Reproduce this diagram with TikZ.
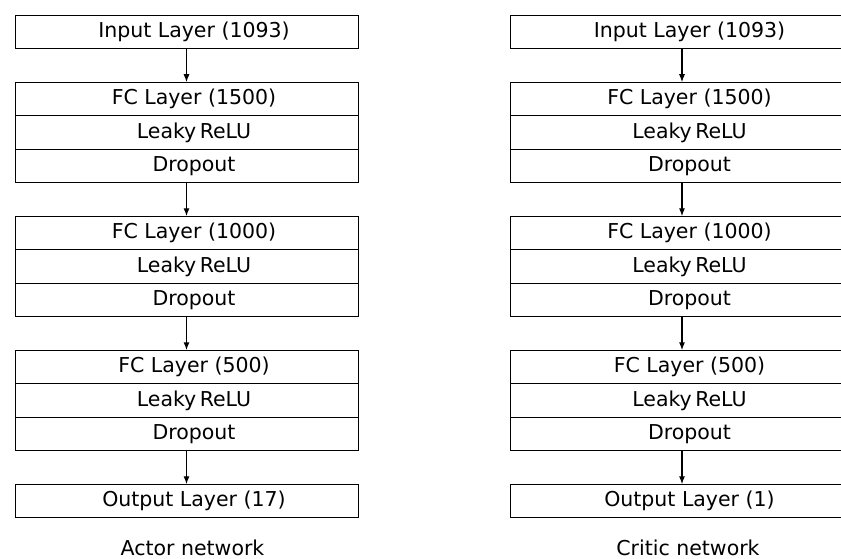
\documentclass[tikz,border=0pt]{standalone}
\usepackage{fontspec}
\setmainfont{DejaVu Sans}
\usetikzlibrary{arrows.meta, positioning}

\begin{document}
\begin{tikzpicture}[
    x=1pt, y=1pt,
    layerbox/.style={rectangle, draw=black, line width=1pt, outer sep=0pt,
                     minimum width=343pt, minimum height=33.5pt, inner sep=0pt,
                     execute at begin node={\hspace*{15pt}},
                     font=\fontsize{20.5}{24}\selectfont},
    netlabel/.style={inner sep=0pt, xshift=6pt, font=\fontsize{20.5}{24}\selectfont},
    flow/.style={-{Latex[length=8pt,width=6pt]}, line width=1.1pt},
  ]
    \clip (0,0) rectangle (841,-559);

    % actor network
    \node[layerbox] (ain) at (186.5,-32) {Input Layer (1093)};
    \node[layerbox, below=33.5pt of ain] (afc1) {FC Layer (1500)};
    \node[layerbox, below=0pt of afc1]   (arelu1) {Leaky\,ReLU};
    \node[layerbox, below=0pt of arelu1] (adrop1) {Dropout};
    \node[layerbox, below=33.5pt of adrop1] (afc2) {FC Layer (1000)};
    \node[layerbox, below=0pt of afc2]   (arelu2) {Leaky\,ReLU};
    \node[layerbox, below=0pt of arelu2] (adrop2) {Dropout};
    \node[layerbox, below=33.5pt of adrop2] (afc3) {FC Layer (500)};
    \node[layerbox, below=0pt of afc3]   (arelu3) {Leaky\,ReLU};
    \node[layerbox, below=0pt of arelu3] (adrop3) {Dropout};
    \node[layerbox, below=33.5pt of adrop3] (aout) {Output Layer (17)};
    \node[netlabel, below=22pt of aout] (alabel) {Actor network};

    \draw[flow] (ain) -- (afc1);
    \draw[flow] (adrop1) -- (afc2);
    \draw[flow] (adrop2) -- (afc3);
    \draw[flow] (adrop3) -- (aout);

    % critic network
    \node[layerbox] (cin) at (682,-32) {Input Layer (1093)};
    \node[layerbox, below=33.5pt of cin] (cfc1) {FC Layer (1500)};
    \node[layerbox, below=0pt of cfc1]   (crelu1) {Leaky\,ReLU};
    \node[layerbox, below=0pt of crelu1] (cdrop1) {Dropout};
    \node[layerbox, below=33.5pt of cdrop1] (cfc2) {FC Layer (1000)};
    \node[layerbox, below=0pt of cfc2]   (crelu2) {Leaky\,ReLU};
    \node[layerbox, below=0pt of crelu2] (cdrop2) {Dropout};
    \node[layerbox, below=33.5pt of cdrop2] (cfc3) {FC Layer (500)};
    \node[layerbox, below=0pt of cfc3]   (crelu3) {Leaky\,ReLU};
    \node[layerbox, below=0pt of crelu3] (cdrop3) {Dropout};
    \node[layerbox, below=33.5pt of cdrop3] (cout) {Output Layer (1)};
    \node[netlabel, below=22pt of cout] (clabel) {Critic network};

    \draw[flow] (cin) -- (cfc1);
    \draw[flow] (cdrop1) -- (cfc2);
    \draw[flow] (cdrop2) -- (cfc3);
    \draw[flow] (cdrop3) -- (cout);
  \end{tikzpicture}
\end{document}
